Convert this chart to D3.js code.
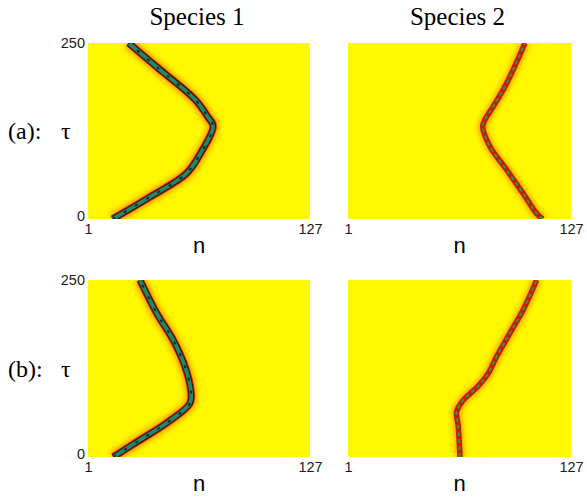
<!DOCTYPE html>
<html>
<head>
  <meta charset="utf-8">
  <title>Species 1 / Species 2</title>
  <script src="https://d3js.org/d3.v7.min.js"></script>
  <style>
    body { margin: 0; background: #fff; }
    .tick text { font-family: "Liberation Sans", Arial, sans-serif; font-size: 14.5px; fill: #1a1a1a; }
  </style>
</head>
<body>
  <div id="chart"></div>
  <script>
    // Datos: posicion n del perfil para cada tiempo tau
    const nTicks = [1, 127];
    const tauTicks = [0, 250];
    const speciesNames = ["Species 1", "Species 2"];
    const rowNames = ["(a):", "(b):"];

    const tauA1 = [0, 31, 65, 94, 132, 145, 169, 216, 250];
    const nA1   = [15, 36, 57, 65, 72, 69, 62, 40, 24];

    const tauA2 = [0, 8, 36, 70, 103, 131, 141, 160, 193, 250];
    const nA2   = [111, 107.5, 100, 90.6, 81.2, 77.1, 78.4, 83.1, 90.7, 101];

    const tauB1 = [0, 24, 48, 76, 95, 128, 165, 203, 250];
    const nB1   = [15.4, 30.5, 45.6, 58.9, 59.3, 56, 49.4, 40, 30.5];

    const tauB2 = [0, 43, 64, 80, 100, 118, 142, 175, 208, 250];
    const nB2   = [64.3, 63.3, 62.4, 66, 74.5, 80.2, 85, 92.5, 100, 107.6];

    const W = 587, H = 497;
    const cols = [[88, 310], [348, 571]];
    const rows = [[43, 219], [280, 457]];

    const panels = [
      {row: 0, col: 0, tau: tauA1, n: nA1},
      {row: 0, col: 1, tau: tauA2, n: nA2},
      {row: 1, col: 0, tau: tauB1, n: nB1},
      {row: 1, col: 1, tau: tauB2, n: nB2}
    ];

    const svg = d3.select("#chart").append("svg")
      .attr("width", W).attr("height", H);

    const defs = svg.append("defs");
    defs.append("filter").attr("id", "glow")
      .attr("x", "-50%").attr("y", "-50%").attr("width", "200%").attr("height", "200%")
      .append("feGaussianBlur").attr("stdDeviation", 2.6);
    defs.append("filter").attr("id", "soft")
      .append("feGaussianBlur").attr("stdDeviation", 0.6);

    panels.forEach((p, i) => {
      const x = d3.scaleLinear().domain([1, 127]).range(cols[p.col]);
      const y = d3.scaleLinear().domain([0, 250]).range([rows[p.row][1], rows[p.row][0]]);
      const pts = p.tau.map((t, k) => [p.n[k], t]);
      const line = d3.line().x(d => x(d[0])).y(d => y(d[1])).curve(d3.curveCatmullRom.alpha(0.5));

      defs.append("clipPath").attr("id", "clip" + i)
        .append("rect")
        .attr("x", x(1)).attr("y", y(250))
        .attr("width", x(127) - x(1)).attr("height", y(0) - y(250));

      const g = svg.append("g").attr("clip-path", `url(#clip${i})`);

      // fondo amarillo del mapa de densidad
      g.append("rect")
        .attr("x", x(1)).attr("y", y(250))
        .attr("width", x(127) - x(1)).attr("height", y(0) - y(250))
        .attr("fill", "#fff800");

      const wide = p.col === 0;
      // halo naranja difuso
      g.append("path").datum(pts)
        .attr("fill", "none").attr("stroke", "#f06000")
        .attr("stroke-width", wide ? 12 : 9).attr("opacity", 0.6)
        .attr("filter", "url(#glow)").attr("d", line);
      // borde rojo
      g.append("path").datum(pts)
        .attr("fill", "none").attr("stroke", "#c81a00")
        .attr("stroke-width", wide ? 7.5 : 5.5)
        .attr("filter", "url(#soft)").attr("d", line);
      if (wide) {
        g.append("path").datum(pts)
          .attr("fill", "none").attr("stroke", "#3a1208")
          .attr("stroke-width", 5.8).attr("d", line);
        g.append("path").datum(pts)
          .attr("fill", "none").attr("stroke", "#1f8c60")
          .attr("stroke-width", 3.8).attr("d", line);
        g.append("path").datum(pts)
          .attr("fill", "none").attr("stroke", "#0c2a3a")
          .attr("stroke-width", 2).attr("stroke-dasharray", "3,10").attr("d", line);
      } else {
        g.append("path").datum(pts)
          .attr("fill", "none").attr("stroke", "#2a9a4a")
          .attr("stroke-width", 2).attr("stroke-dasharray", "4,3").attr("d", line);
      }

      // ejes: solo etiquetas en los extremos
      const xAxis = svg.append("g")
        .attr("transform", `translate(0, ${y(0)})`)
        .call(d3.axisBottom(x).tickValues(nTicks).tickSize(0).tickPadding(5));
      xAxis.select(".domain").remove();

      if (p.col === 0) {
        const yAxis = svg.append("g")
          .attr("transform", `translate(${x(1)}, 0)`)
          .call(d3.axisLeft(y).tickValues(tauTicks).tickSize(0).tickPadding(3));
        yAxis.select(".domain").remove();
        yAxis.selectAll(".tick text").filter(d => d === 0).attr("dy", "0.1em");

        svg.append("text")
          .attr("x", 8).attr("y", (y(0) + y(250)) / 2 + 8)
          .attr("font-family", "Liberation Serif, Times New Roman, serif")
          .attr("font-size", 24)
          .text(rowNames[p.row]);
        svg.append("text")
          .attr("x", 61).attr("y", (y(0) + y(250)) / 2 + 8)
          .attr("font-family", "Liberation Serif, Times New Roman, serif")
          .attr("font-size", 24)
          .text("τ");
      }

      // etiqueta n
      svg.append("text")
        .attr("x", (x(1) + x(127)) / 2).attr("y", y(0) + 34)
        .attr("text-anchor", "middle")
        .attr("font-family", "Liberation Sans, Arial, sans-serif")
        .attr("font-size", 22)
        .text("n");

      if (p.row === 0) {
        svg.append("text")
          .attr("x", (x(1) + x(127)) / 2 - 2).attr("y", 25)
          .attr("text-anchor", "middle")
          .attr("font-family", "Liberation Serif, Times New Roman, serif")
          .attr("font-size", 25)
          .text(speciesNames[p.col]);
      }
    });
  </script>
</body>
</html>
